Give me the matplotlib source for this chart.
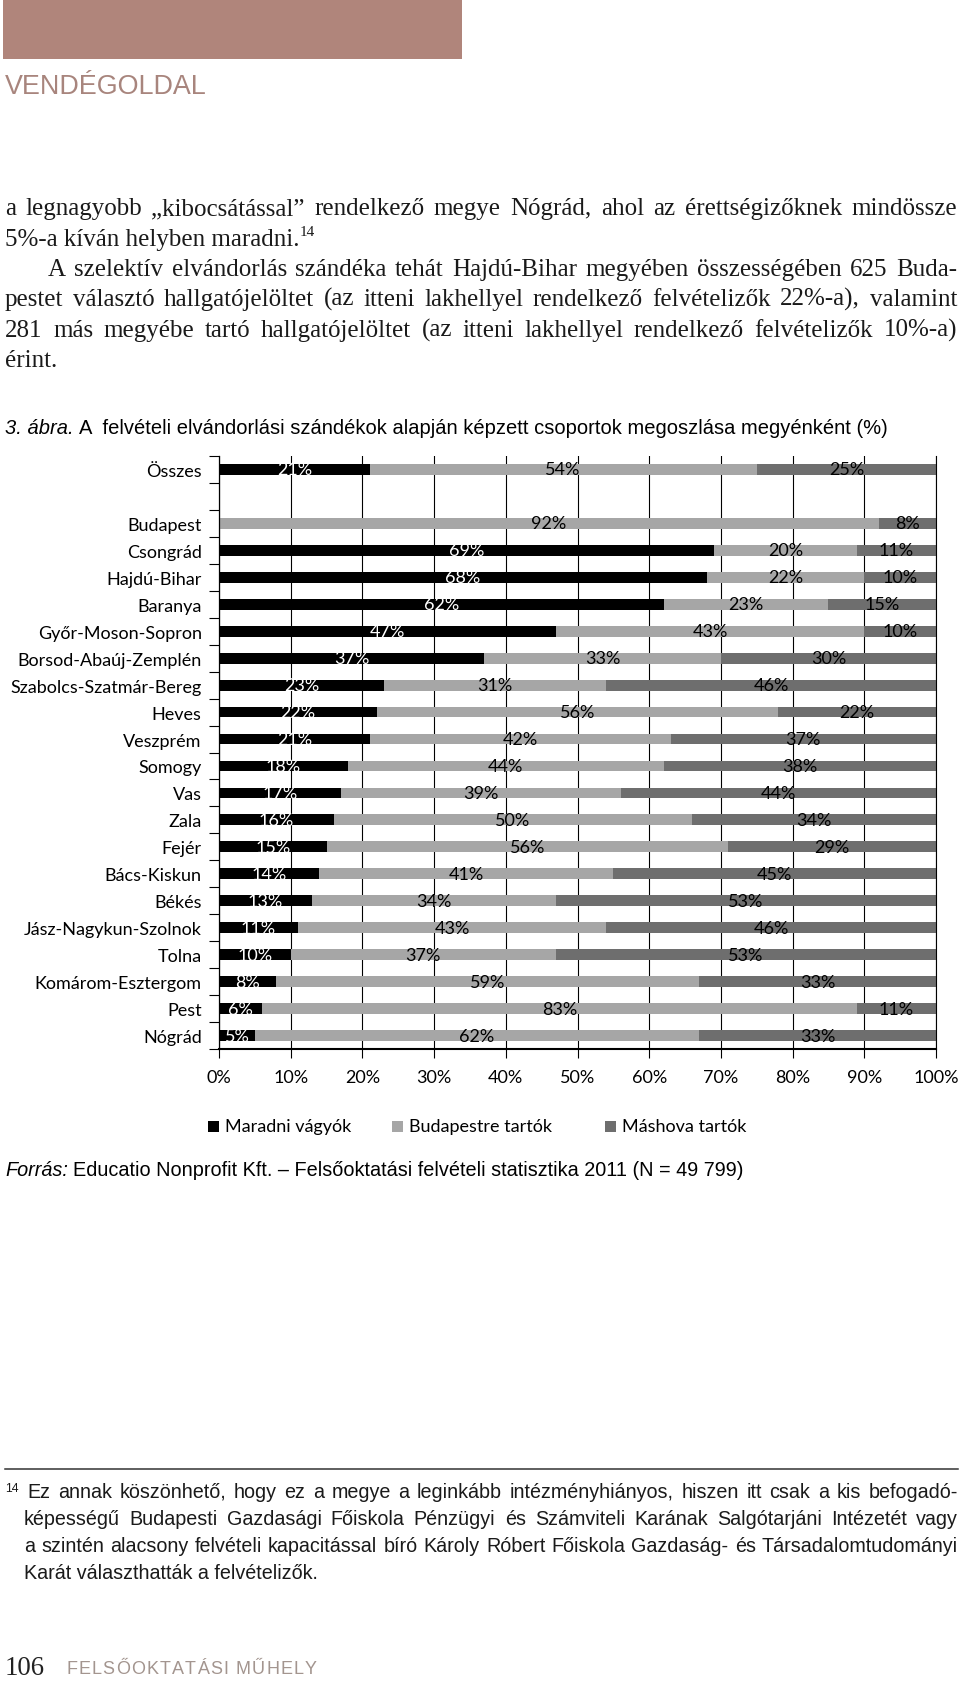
import numpy as np
import matplotlib
matplotlib.use('Agg')
import matplotlib.pyplot as plt
from matplotlib import font_manager
from matplotlib.patches import Rectangle
from matplotlib.lines import Line2D

W, H = 960, 1683

# adatok (%), felülről lefelé
megyek = ['Összes', 'Budapest', 'Csongrád', 'Hajdú-Bihar', 'Baranya', 'Győr-Moson-Sopron',
          'Borsod-Abaúj-Zemplén', 'Szabolcs-Szatmár-Bereg', 'Heves', 'Veszprém', 'Somogy',
          'Vas', 'Zala', 'Fejér', 'Bács-Kiskun', 'Békés', 'Jász-Nagykun-Szolnok', 'Tolna',
          'Komárom-Esztergom', 'Pest', 'Nógrád']
maradni = [21, 0, 69, 68, 62, 47, 37, 23, 22, 21, 18, 17, 16, 15, 14, 13, 11, 10, 8, 6, 5]
budapestre = [54, 92, 20, 22, 23, 43, 33, 31, 56, 42, 44, 39, 50, 56, 41, 34, 43, 37, 59, 83, 62]
mashova = [25, 8, 11, 10, 15, 10, 30, 46, 22, 37, 38, 44, 34, 29, 45, 53, 46, 53, 33, 11, 33]
sorozatok = ['Maradni vágyók', 'Budapestre tartók', 'Máshova tartók']
szinek = ['#000000', '#a6a6a6', '#6e6e6e']
x_ticks = [0, 10, 20, 30, 40, 50, 60, 70, 80, 90, 100]

names = {f.name for f in font_manager.fontManager.ttflist}
NARROW = 'Liberation Sans Narrow' if 'Liberation Sans Narrow' in names else 'Liberation Sans'
SERIF = 'Liberation Serif'
CHART = ['Lato', 'DejaVu Sans']
CS = 13  # diagram betűméret

fig = plt.figure(figsize=(W / 100, H / 100), dpi=100)
rend = fig.canvas.get_renderer()


def txt(x, y, s, **kw):
    kw.setdefault('va', 'baseline')
    return fig.text(x / W, 1 - y / H, s, **kw)


def width(t):
    return t.get_window_extent(renderer=rend).width


def measure(s, **kw):
    t = fig.text(0, 0, s, **kw)
    w = width(t)
    t.remove()
    return w


def space(**kw):
    return measure('a a', **kw) - measure('aa', **kw)


def justify(x0, x1, y, line, **kw):
    words = line.split()
    ts = [txt(x0, y, w, **kw) for w in words]
    ws = [width(t) for t in ts]
    gap = (x1 - x0 - sum(ws)) / (len(ws) - 1)
    x = x0
    for t, w in zip(ts, ws):
        t.set_x(x / W)
        x += w + gap


def runs(x, y, parts, size, family):
    # parts: (szöveg, stílus) egymás után, szóközzel elválasztva
    sp = space(fontsize=size, family=family)
    for s, style in parts:
        t = txt(x, y, s, fontsize=size, family=family, style=style)
        x += width(t) + sp
    return x


def fit_runs(x0, x1, y, parts, family):
    tot = sum(measure(s, fontsize=10, family=family, style=st) for s, st in parts)
    tot += space(fontsize=10, family=family) * (len(parts) - 1)
    size = 10 * (x1 - x0) / tot
    return runs(x0, y, parts, size, family)


def track(x0, x1, y, s, **kw):
    ws = [space(**kw) if c == ' ' else measure(c, **kw) for c in s]
    gap = (x1 - x0 - sum(ws)) / (len(s) - 1)
    x = x0
    for c, w in zip(s, ws):
        if c != ' ':
            txt(x, y, c, **kw)
        x += w + gap


# fejléc
fig.add_artist(Rectangle((3 / W, 1 - 60 / H), 459 / W, 59 / H, transform=fig.transFigure,
                         color='#b0857b', lw=0))
t = txt(5, 94, 'VENDÉGOLDAL', fontsize=10, family=NARROW, color='#a8857d')
t.set_fontsize(10 * 202 / width(t))

# törzsszöveg
body = dict(fontsize=18, family=SERIF, color='#1a1a1a')
justify(5, 957, 215, 'a legnagyobb „kibocsátással” rendelkező megye Nógrád, ahol az érettségizőknek mindössze', **body)
t = txt(5, 246, '5%-a kíván helyben maradni.', **body)
txt(5 + width(t), 236, '14', fontsize=11, family=SERIF, color='#1a1a1a')
justify(48, 957, 276, 'A szelektív elvándorlás szándéka tehát Hajdú-Bihar megyében összességében 625 Buda-', **body)
justify(5, 957, 306, 'pestet választó hallgatójelöltet (az itteni lakhellyel rendelkező felvételizők 22%-a), valamint', **body)
justify(5, 957, 337, '281 más megyébe tartó hallgatójelöltet (az itteni lakhellyel rendelkező felvételizők 10%-a)', **body)
txt(5, 367, 'érint.', **body)

# ábracím
fit_runs(5, 887, 434, [('3. ábra.', 'italic'),
                       ('A  felvételi elvándorlási szándékok alapján képzett csoportok megoszlása megyénként (%)', 'normal')],
         NARROW)

# diagram
ax = fig.add_axes([219 / W, 1 - 1050 / H, (936 - 219) / W, (1050 - 457) / H])
pos = np.array([0] + list(range(2, len(megyek) + 1)))
left = np.zeros(len(megyek))
for i, (vals, c) in enumerate(zip([maradni, budapestre, mashova], szinek)):
    vals = np.array(vals)
    ax.barh(pos, vals, left=left, height=0.4, color=c, zorder=2)
    for p, l, v in zip(pos, left, vals):
        if v > 0:
            ax.text(l + v / 2, p, f'{v}%', ha='center', va='center', fontsize=CS,
                    family=CHART, color='white' if i == 0 else 'black', zorder=3)
    left += vals

ax.set_xlim(0, 100)
ax.set_ylim(pos[-1] + 0.5, -0.5)
ax.set_yticks(np.arange(-0.5, pos[-1] + 1, 1))
ax.set_yticklabels([])
ax.set_yticks(pos, minor=True)
ax.set_yticklabels(megyek, minor=True, family=CHART, fontsize=CS)
ax.tick_params(axis='y', which='major', length=7.2, width=0.8, direction='out')
ax.tick_params(axis='y', which='minor', length=0, pad=12.5)
ax.set_xticks(x_ticks)
ax.set_xticklabels([f'{v}%' for v in x_ticks], family=CHART, fontsize=CS)
ax.tick_params(axis='x', length=6.5, width=0.8, pad=8)
ax.xaxis.grid(True, color='black', lw=0.8, zorder=0)
ax.set_axisbelow(True)
ax.spines['top'].set_visible(False)
ax.spines['right'].set_linewidth(0.8)
ax.spines['left'].set_linewidth(0.9)
ax.spines['bottom'].set_linewidth(1.5)

# jelmagyarázat
for name, c, xm in zip(sorozatok, szinek, [208, 392, 605]):
    fig.add_artist(Rectangle((xm / W, 1 - 1133 / H), 11 / W, 11 / H, transform=fig.transFigure,
                             color=c, lw=0))
    txt(xm + 17, 1127.5, name, va='center', family=CHART, fontsize=CS)

# forrás
fit_runs(5, 744, 1176, [('Forrás:', 'italic'),
                        ('Educatio Nonprofit Kft. – Felsőoktatási felvételi statisztika 2011 (N = 49 799)', 'normal')],
         NARROW)

# lábjegyzet
fig.add_artist(Line2D([5 / W, 958 / W], [1 - 1469.5 / H] * 2, transform=fig.transFigure,
                      color='#333333', lw=1.1))
last = 'Karát választhatták a felvételizők.'
fs = 10 * 295 / measure(last, fontsize=10, family=NARROW)
foot = dict(fontsize=fs, family=NARROW, color='#1a1a1a')
txt(5, 1492, '14', fontsize=fs * 0.62, family=NARROW, color='#1a1a1a')
justify(27, 958, 1498, 'Ez annak köszönhető, hogy ez a megye a leginkább intézményhiányos, hiszen itt csak a kis befogadó-', **foot)
justify(24, 958, 1525, 'képességű Budapesti Gazdasági Főiskola Pénzügyi és Számviteli Karának Salgótarjáni Intézetét vagy', **foot)
justify(24, 958, 1552, 'a szintén alacsony felvételi kapacitással bíró Károly Róbert Főiskola Gazdaság- és Társadalomtudományi', **foot)
txt(24, 1579, last, **foot)

# oldalszám
t = txt(5, 1675, '106', fontsize=10, family=SERIF, color='#222222')
t.set_fontsize(10 * 40 / width(t))
track(66, 317, 1674, 'FELSŐOKTATÁSI MŰHELY', fontsize=13, family='Liberation Sans', color='#a3958f')

fig.savefig('out.png', dpi=100)
